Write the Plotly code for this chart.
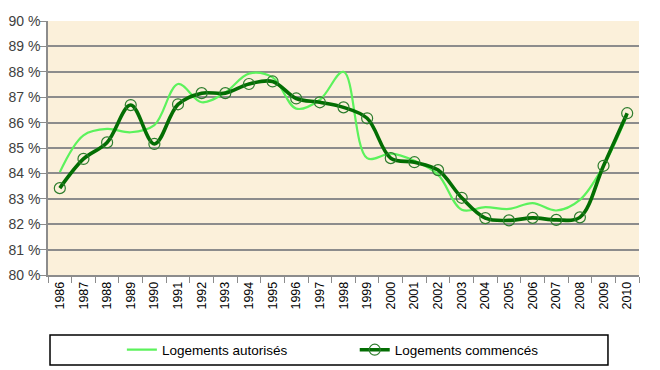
import plotly.graph_objects as go

years = [str(y) for y in range(1986, 2011)]
autorises = [84.05, 85.5, 85.75, 85.62, 85.9, 87.52, 86.8, 87.19, 87.93, 87.78, 86.55, 86.9,
             88.0, 84.6, 84.78, 84.5, 83.95, 82.57, 82.67, 82.6, 82.83, 82.54, 82.96, 84.3, 86.3]
commences = [83.42, 84.57, 85.22, 86.69, 85.16, 86.72, 87.16, 87.16, 87.52, 87.62, 86.95, 86.8,
             86.6, 86.17, 84.6, 84.44, 84.13, 83.04, 82.24, 82.15, 82.25, 82.17, 82.27, 84.3, 86.37]
y_ticks = list(range(80, 91))
y_labels = [f"{v} %" for v in y_ticks]

fig = go.Figure()
fig.add_trace(go.Scatter(
    x=years, y=autorises, name="Logements autorisés", mode="lines",
    line=dict(color="#5CF25C", width=2.2, shape="spline", smoothing=1.0),
    legend="legend",
))
fig.add_trace(go.Scatter(
    x=years, y=commences, name="Logements commencés", mode="lines+markers",
    line=dict(color="#036E03", width=3.6, shape="spline", smoothing=1.0),
    marker=dict(symbol="circle-open", size=11, color="#2E7D2E", line=dict(width=1.2)),
    legend="legend2",
))

fig.add_shape(type="rect", xref="paper", yref="paper",
              x0=0.0034, x1=0.9475, y0=-0.354, y1=-0.236,
              line=dict(color="black", width=1.5), fillcolor="white", layer="below")

leg_common = dict(orientation="h", xanchor="left", y=-0.295, yanchor="middle",
                  bgcolor="rgba(0,0,0,0)", borderwidth=0, font=dict(size=13.5),
                  itemwidth=30)

fig.update_layout(
    width=652, height=362,
    margin=dict(l=40, r=21, t=13, b=95, autoexpand=False),
    paper_bgcolor="white", plot_bgcolor="#FBF0DA",
    font=dict(family="Liberation Sans, Arial, sans-serif", color="black"),
    showlegend=True,
    legend=dict(x=0.125, **leg_common),
    legend2=dict(x=0.519, **leg_common),
    xaxis=dict(type="category", tickangle=-90, tickfont=dict(size=12.5, color="black"),
               showgrid=False, showline=True, linecolor="#8C8C8C", linewidth=1.5,
               ticks="outside", ticklen=6, tickcolor="#8C8C8C", tickson="boundaries",
               range=[-0.5, 24.5], automargin=False),
    yaxis=dict(range=[80, 90], tickvals=y_ticks, ticktext=y_labels,
               tickfont=dict(size=14, color="#404040"), ticklabelstandoff=-3,
               showgrid=True, gridcolor="#8C8C8C", gridwidth=1.5,
               showline=True, linecolor="#8C8C8C", linewidth=1.5,
               zeroline=False, ticks="outside", ticklen=6, tickcolor="#8C8C8C",
               automargin=False),
)

fig.write_html("out.html")
